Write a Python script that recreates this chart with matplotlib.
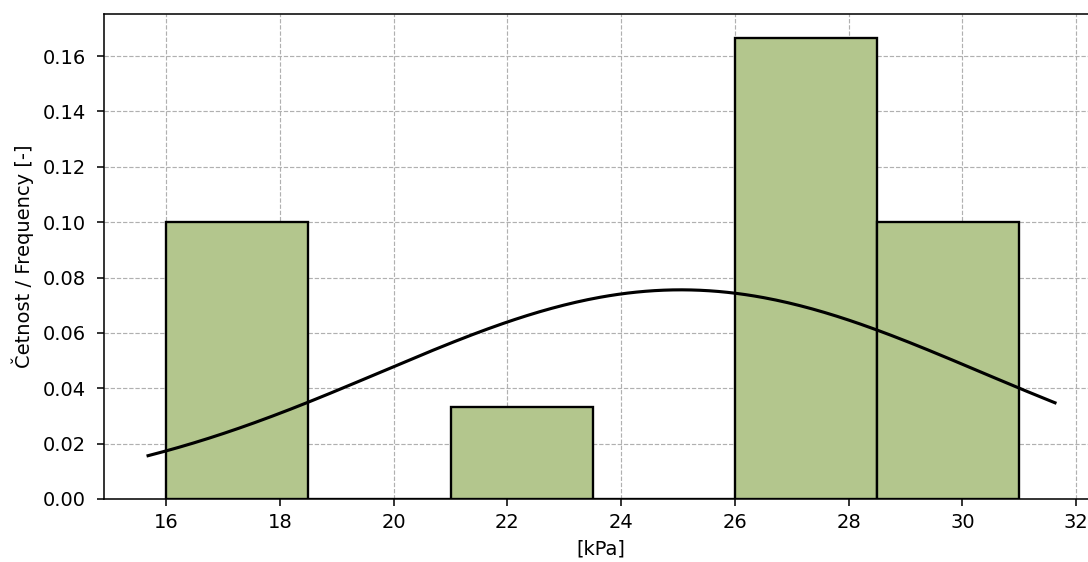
import numpy as np
import matplotlib
matplotlib.use("Agg")
import matplotlib.pyplot as plt

# Histogram (density) data
bin_edges = [16.0, 18.5, 21.0, 23.5, 26.0, 28.5, 31.0]
densities = [0.1, 0.0, 0.0333, 0.0, 0.1667, 0.1]

# Fitted normal curve parameters
curve_mu = 25.05
curve_sigma = 5.28
curve_range = (15.68, 31.63)

xlabel = "[kPa]"
ylabel = "Četnost / Frequency [-]"
x_ticks = [16, 18, 20, 22, 24, 26, 28, 30, 32]
y_ticks = [0.00, 0.02, 0.04, 0.06, 0.08, 0.10, 0.12, 0.14, 0.16]

dpi = 140
fig = plt.figure(figsize=(1088 / dpi, 562 / dpi), dpi=dpi)
W, H = 1088, 562
ax = fig.add_axes([104 / W, 1 - 499 / H, (1098.5 - 104) / W, (499 - 14) / H])
ax.set_axisbelow(True)

lefts = bin_edges[:-1]
widths = np.diff(bin_edges)
ax.bar(lefts, densities, width=widths, align="edge",
       color="#b3c68d", edgecolor="black", linewidth=1.2)

xs = np.linspace(curve_range[0], curve_range[1], 300)
ys = np.exp(-0.5 * ((xs - curve_mu) / curve_sigma) ** 2) / (curve_sigma * np.sqrt(2 * np.pi))
ax.plot(xs, ys, color="black", linewidth=1.6)

ax.set_xlim(14.905, 32.395)
ax.set_ylim(0, 0.1752)
ax.set_xticks(x_ticks)
ax.set_yticks(y_ticks)
ax.set_yticklabels([f"{v:.2f}" for v in y_ticks])
ax.tick_params(axis="y", pad=6.0)
ax.grid(True, linestyle="--", color="#b0b0b0", linewidth=0.6)
ax.set_xlabel(xlabel)
ax.set_ylabel(ylabel)

fig.savefig("out.png", dpi=dpi)
